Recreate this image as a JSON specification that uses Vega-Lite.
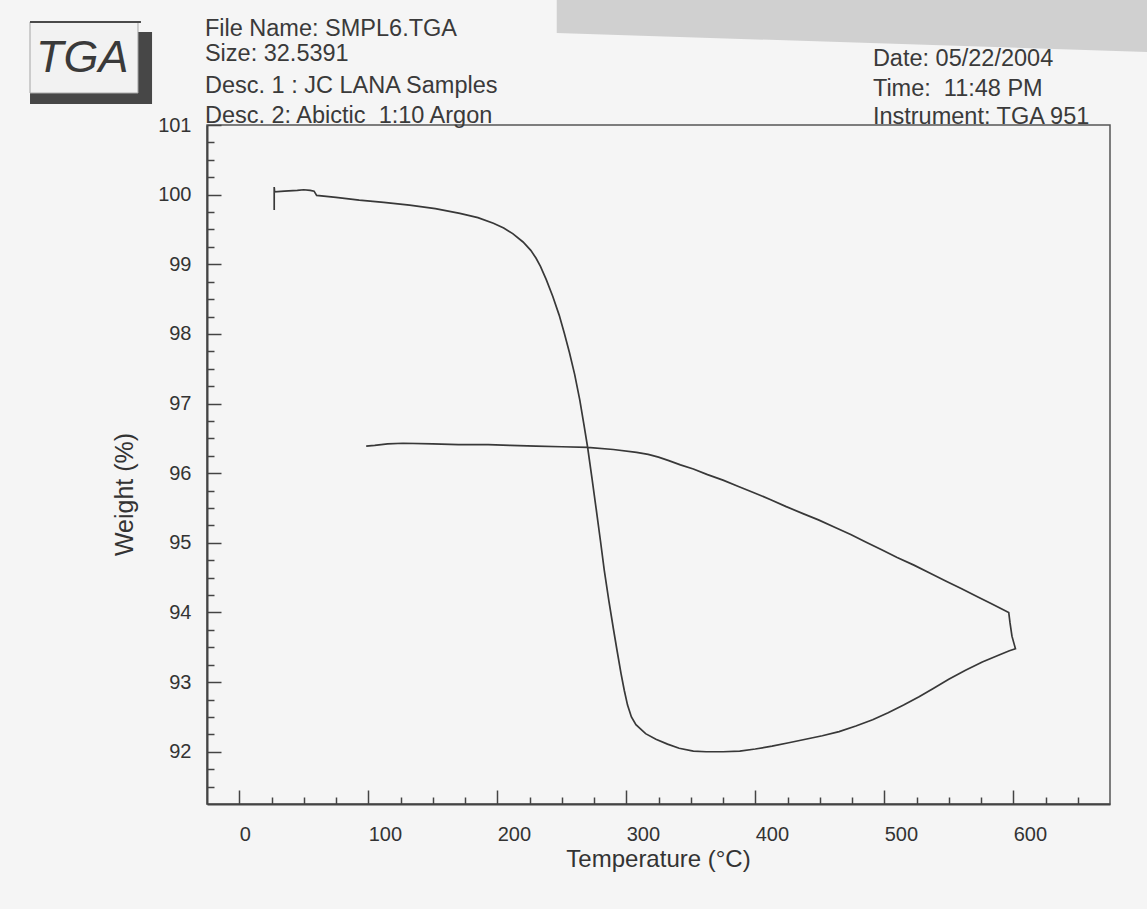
{
  "$schema": "https://vega.github.io/schema/vega-lite/v6.json",
  "width": 903,
  "height": 679,
  "autosize": {"type": "none"},
  "padding": {"left": 207, "top": 125, "right": 37, "bottom": 105},
  "background": "#f5f5f5",
  "config": {
    "font": "Liberation Sans",
    "view": {"stroke": "#555555", "strokeWidth": 1.5}
  },
  "encoding": {
    "x": {"field": "t", "type": "quantitative", "scale": {"domain": [-25, 675], "nice": false, "zero": false}, "axis": null},
    "y": {"field": "w", "type": "quantitative", "scale": {"domain": [91.25, 101], "nice": false, "zero": false}, "axis": null}
  },
  "layer": [
    {
      "data": {"values": [
        {"t": 246.1, "w": 103.0, "w2": 102.321},
        {"t": 704.0, "w": 103.0, "w2": 102.048}
      ]},
      "mark": {"type": "area", "color": "#d0d0d0", "clip": false, "opacity": 1},
      "encoding": {"y2": {"field": "w2"}}
    },
    {
      "data": {"values": [{"t": -162.2, "t2": -67.6, "w": 102.335, "w2": 101.302}]},
      "mark": {"type": "rect", "color": "#474747", "clip": false},
      "encoding": {"x2": {"field": "t2"}, "y2": {"field": "w2"}}
    },
    {
      "data": {"values": [{"t": -162.2, "t2": -78.5, "w": 102.479, "w2": 101.459}]},
      "mark": {"type": "rect", "fill": "#f2f2f2", "stroke": "#a5a5a5", "strokeWidth": 1, "clip": false},
      "encoding": {"x2": {"field": "t2"}, "y2": {"field": "w2"}}
    },
    {
      "data": {"values": [{"t": -162.2, "t2": -76.2, "w": 102.479}]},
      "mark": {"type": "rule", "color": "#4a4a4a", "strokeWidth": 2, "clip": false},
      "encoding": {"x2": {"field": "t2"}}
    },
    {
      "data": {"values": [{"t": -157.6, "w": 101.761, "label": "TGA"}]},
      "mark": {"type": "text", "align": "left", "baseline": "alphabetic", "fontSize": 45, "fontStyle": "italic", "color": "#3a3a3a", "clip": false},
      "encoding": {"text": {"field": "label"}}
    },
    {
      "data": {"values": [
        {"t": -26.6, "w": 102.278, "label": "File Name: SMPL6.TGA"},
        {"t": -26.6, "w": 101.919, "label": "Size: 32.5391"},
        {"t": -26.6, "w": 101.46, "label": "Desc. 1 : JC LANA Samples"},
        {"t": -26.6, "w": 101.029, "label": "Desc. 2: Abictic\u00a0\u00a01:10 Argon"},
        {"t": 491.2, "w": 101.847, "label": "Date: 05/22/2004"},
        {"t": 491.2, "w": 101.416, "label": "Time:\u00a0\u00a011:48 PM"},
        {"t": 491.2, "w": 101.014, "label": "Instrument: TGA 951"}
      ]},
      "mark": {"type": "text", "align": "left", "baseline": "alphabetic", "fontSize": 23.5, "color": "#3a3a3a", "clip": false},
      "encoding": {
        "text": {"field": "label"},
        "x": {"field": "t", "type": "quantitative", "scale": {"domain": [-25, 675], "nice": false, "zero": false},
          "axis": {"orient": "bottom", "values": [25, 50, 75, 125, 150, 175, 225, 250, 275, 325, 350, 375, 425, 450, 475, 525, 550, 575, 625, 650],
            "tickSize": -7, "tickColor": "#444444", "tickWidth": 1.5, "labels": false, "domain": false, "grid": false, "title": null}},
        "y": {"field": "w", "type": "quantitative", "scale": {"domain": [91.25, 101], "nice": false, "zero": false},
          "axis": {"orient": "left", "values": [91.5, 91.75, 92.25, 92.5, 92.75, 93.25, 93.5, 93.75, 94.25, 94.5, 94.75, 95.25, 95.5, 95.75, 96.25, 96.5, 96.75, 97.25, 97.5, 97.75, 98.25, 98.5, 98.75, 99.25, 99.5, 99.75, 100.25, 100.5, 100.75],
            "tickSize": -7, "tickColor": "#444444", "tickWidth": 1.5, "labels": false, "domain": false, "grid": false, "title": null}}
      }
    },
    {
      "data": {"values": [
        {"i": 1, "t": 27.1, "w": 99.78}, {"i": 2, "t": 27.1, "w": 100.11}, {"i": 3, "t": 27.4, "w": 100.04},
        {"i": 4, "t": 35, "w": 100.05}, {"i": 5, "t": 45, "w": 100.06}, {"i": 6, "t": 50, "w": 100.07},
        {"i": 7, "t": 55, "w": 100.06}, {"i": 8, "t": 58, "w": 100.05}, {"i": 9, "t": 60, "w": 99.99},
        {"i": 10, "t": 75, "w": 99.96}, {"i": 11, "t": 93, "w": 99.92}, {"i": 12, "t": 112, "w": 99.89},
        {"i": 13, "t": 132, "w": 99.85}, {"i": 14, "t": 152, "w": 99.8}, {"i": 15, "t": 171, "w": 99.73},
        {"i": 16, "t": 185, "w": 99.67}, {"i": 17, "t": 197, "w": 99.59}, {"i": 18, "t": 205, "w": 99.52},
        {"i": 19, "t": 212, "w": 99.44}, {"i": 20, "t": 220, "w": 99.32}, {"i": 21, "t": 226, "w": 99.2},
        {"i": 22, "t": 230, "w": 99.09}, {"i": 23, "t": 233.5, "w": 98.97}, {"i": 24, "t": 238, "w": 98.78},
        {"i": 25, "t": 243, "w": 98.54}, {"i": 26, "t": 248, "w": 98.27}, {"i": 27, "t": 252, "w": 98.01},
        {"i": 28, "t": 256, "w": 97.73}, {"i": 29, "t": 260, "w": 97.42}, {"i": 30, "t": 264, "w": 97.05},
        {"i": 31, "t": 267, "w": 96.72}, {"i": 32, "t": 270, "w": 96.38}, {"i": 33, "t": 273.5, "w": 95.92},
        {"i": 34, "t": 276.6, "w": 95.5}, {"i": 35, "t": 280, "w": 95.03}, {"i": 36, "t": 283, "w": 94.6},
        {"i": 37, "t": 286.5, "w": 94.17}, {"i": 38, "t": 290, "w": 93.77}, {"i": 39, "t": 293, "w": 93.44},
        {"i": 40, "t": 296, "w": 93.12}, {"i": 41, "t": 298.5, "w": 92.88}, {"i": 42, "t": 301, "w": 92.67},
        {"i": 43, "t": 304, "w": 92.5}, {"i": 44, "t": 307.5, "w": 92.39}, {"i": 45, "t": 315, "w": 92.26},
        {"i": 46, "t": 323, "w": 92.18}, {"i": 47, "t": 332, "w": 92.11}, {"i": 48, "t": 341, "w": 92.05},
        {"i": 49, "t": 352, "w": 92.01}, {"i": 50, "t": 362, "w": 92.0}, {"i": 51, "t": 375, "w": 92.0},
        {"i": 52, "t": 388, "w": 92.01}, {"i": 53, "t": 400, "w": 92.04}, {"i": 54, "t": 413, "w": 92.08},
        {"i": 55, "t": 426, "w": 92.13}, {"i": 56, "t": 439, "w": 92.18}, {"i": 57, "t": 452, "w": 92.23},
        {"i": 58, "t": 465, "w": 92.29}, {"i": 59, "t": 478, "w": 92.37}, {"i": 60, "t": 491, "w": 92.46},
        {"i": 61, "t": 503, "w": 92.56}, {"i": 62, "t": 515, "w": 92.67}, {"i": 63, "t": 527, "w": 92.79},
        {"i": 64, "t": 538, "w": 92.91}, {"i": 65, "t": 550, "w": 93.04}, {"i": 66, "t": 563, "w": 93.17},
        {"i": 67, "t": 576, "w": 93.29}, {"i": 68, "t": 589, "w": 93.39}, {"i": 69, "t": 597, "w": 93.45},
        {"i": 70, "t": 601.7, "w": 93.48}, {"i": 71, "t": 600.5, "w": 93.56}, {"i": 72, "t": 599, "w": 93.66},
        {"i": 73, "t": 597.5, "w": 93.85}, {"i": 74, "t": 596.5, "w": 94.0}, {"i": 75, "t": 590, "w": 94.06},
        {"i": 76, "t": 582, "w": 94.135}, {"i": 77, "t": 573, "w": 94.22}, {"i": 78, "t": 560, "w": 94.34},
        {"i": 79, "t": 548, "w": 94.45}, {"i": 80, "t": 536, "w": 94.56}, {"i": 81, "t": 523, "w": 94.68},
        {"i": 82, "t": 510, "w": 94.79}, {"i": 83, "t": 498, "w": 94.9}, {"i": 84, "t": 486, "w": 95.01},
        {"i": 85, "t": 474, "w": 95.12}, {"i": 86, "t": 462, "w": 95.22}, {"i": 87, "t": 449, "w": 95.33},
        {"i": 88, "t": 437, "w": 95.42}, {"i": 89, "t": 424, "w": 95.52}, {"i": 90, "t": 412, "w": 95.62},
        {"i": 91, "t": 399, "w": 95.72}, {"i": 92, "t": 387, "w": 95.81}, {"i": 93, "t": 375, "w": 95.9},
        {"i": 94, "t": 363, "w": 95.98}, {"i": 95, "t": 352, "w": 96.06}, {"i": 96, "t": 342, "w": 96.12},
        {"i": 97, "t": 333, "w": 96.18}, {"i": 98, "t": 325, "w": 96.23}, {"i": 99, "t": 317, "w": 96.27},
        {"i": 100, "t": 308, "w": 96.3}, {"i": 101, "t": 290, "w": 96.34}, {"i": 102, "t": 270, "w": 96.37},
        {"i": 103, "t": 250, "w": 96.38}, {"i": 104, "t": 230, "w": 96.39}, {"i": 105, "t": 210, "w": 96.4},
        {"i": 106, "t": 193, "w": 96.41}, {"i": 107, "t": 170, "w": 96.41}, {"i": 108, "t": 150, "w": 96.42},
        {"i": 109, "t": 127, "w": 96.43}, {"i": 110, "t": 115, "w": 96.42}, {"i": 111, "t": 105, "w": 96.4},
        {"i": 112, "t": 98.4, "w": 96.39}
      ]},
      "mark": {"type": "line", "color": "#383838", "strokeWidth": 1.7},
      "encoding": {
        "order": {"field": "i", "type": "quantitative"},
        "x": {"field": "t", "type": "quantitative", "scale": {"domain": [-25, 675], "nice": false, "zero": false},
          "axis": {"orient": "bottom", "values": [0, 100, 200, 300, 400, 500, 600], "tickSize": -14, "tickColor": "#444444", "tickWidth": 1.5,
            "labelAlign": "left", "labelBaseline": "top", "labelPadding": 34, "labelFontSize": 20, "labelColor": "#333333", "labelFont": "Liberation Sans",
            "domain": true, "domainColor": "#444444", "domainWidth": 2, "grid": false,
            "title": "Temperature (°C)", "titleFontSize": 24, "titleFontWeight": "normal", "titleColor": "#333333", "titleFont": "Liberation Sans",
            "titleBaseline": "alphabetic", "titleAlign": "center", "titleX": 451, "titleY": 62}},
        "y": {"field": "w", "type": "quantitative", "scale": {"domain": [91.25, 101], "nice": false, "zero": false},
          "axis": {"orient": "left", "values": [92, 93, 94, 95, 96, 97, 98, 99, 100, 101], "tickSize": -14, "tickColor": "#444444", "tickWidth": 1.5,
            "labelAlign": "right", "labelBaseline": "middle", "labelPadding": 30, "labelFontSize": 20, "labelColor": "#333333", "labelFont": "Liberation Sans",
            "domain": true, "domainColor": "#444444", "domainWidth": 2, "grid": false,
            "title": "Weight (%)", "titleFontSize": 25, "titleFontWeight": "normal", "titleColor": "#333333", "titleFont": "Liberation Sans",
            "titleBaseline": "middle", "titleAlign": "center", "titleAngle": 270, "titleX": -83, "titleY": 369}}
      }
    }
  ],
  "resolve": {"axis": {"x": "independent", "y": "independent"}}
}
